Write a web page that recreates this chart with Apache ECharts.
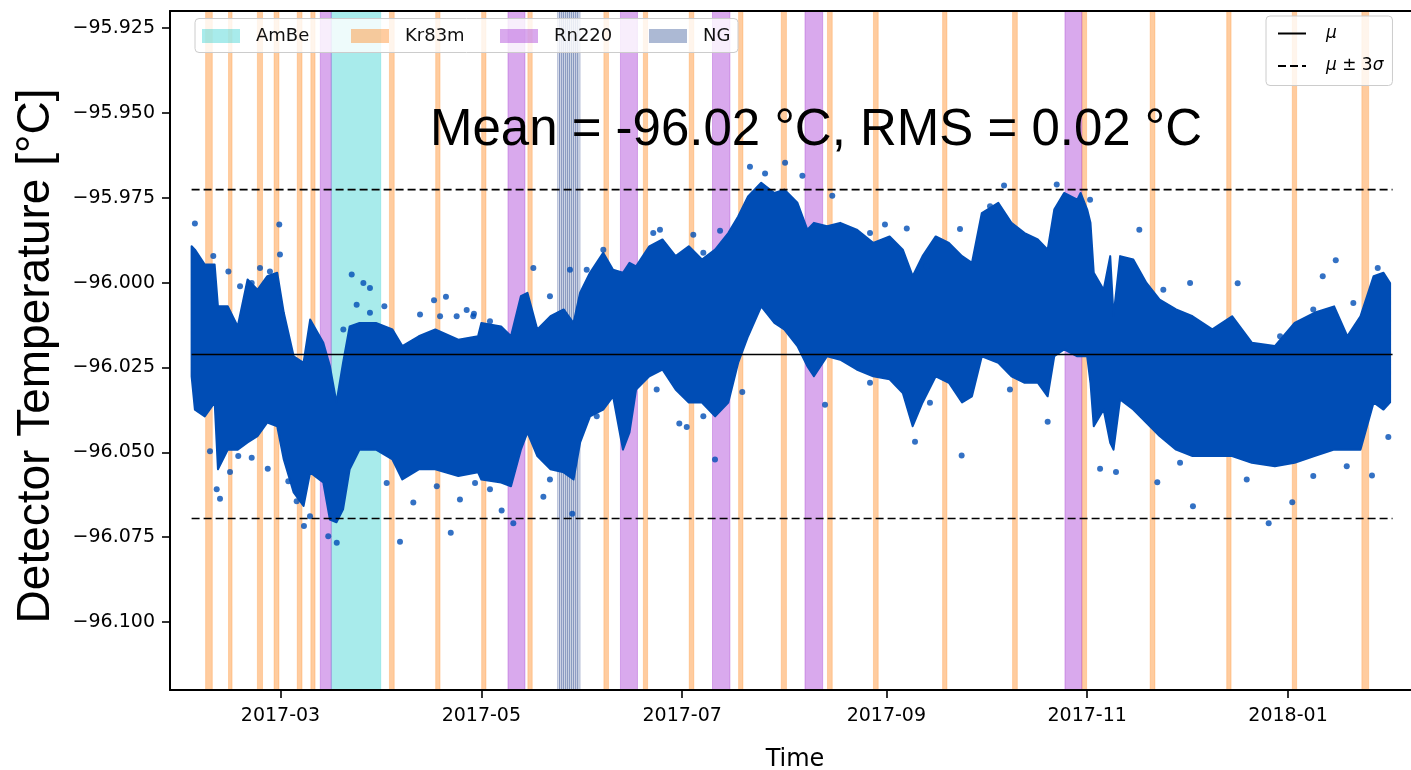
<!DOCTYPE html>
<html><head><meta charset="utf-8">
<script src="https://cdn.jsdelivr.net/npm/echarts@6/dist/echarts.min.js"></script>
<style>html,body{margin:0;padding:0;background:#fff}#c{width:1411px;height:770px}</style>
</head><body><div id="c"></div>
<script>
// ---------------- data ----------------
const X_TICKS = ['2017-03-01','2017-05-01','2017-07-01','2017-09-01','2017-11-01','2018-01-01'];
const Y_TICKS = [-96.100,-96.075,-96.050,-96.025,-96.000,-95.975,-95.950,-95.925];
const X_RANGE = ['2017-01-26 10:30','2018-02-10 02:00'];
const Y_RANGE = [-96.12, -95.92];

const MEAN = -96.0212;
const PLUS_3SIGMA = -95.9726;
const MINUS_3SIGMA = -96.0695;
const LINE_SPAN = ['2017-02-02 00:00','2018-02-01 18:00'];

const AMBE = [['2017-03-16 10:00','2017-03-31 11:00']];
const KR83M = [
  ['2017-02-06 06:00','2017-02-08 07:00'],['2017-02-13 05:00','2017-02-14 07:00'],
  ['2017-02-21 23:30','2017-02-23 13:00'],['2017-02-27 01:00','2017-02-28 13:00'],
  ['2017-03-06 02:00','2017-03-07 13:00'],['2017-03-10 05:00','2017-03-11 12:00'],
  ['2017-04-03 02:00','2017-04-04 13:00'],['2017-04-17 03:00','2017-04-18 11:00'],
  ['2017-05-01 02:00','2017-05-02 10:00'],['2017-05-15 03:00','2017-05-16 11:00'],
  ['2017-06-07 05:00','2017-06-08 15:00'],['2017-06-19 05:00','2017-06-20 12:00'],
  ['2017-07-03 03:00','2017-07-04 13:00'],['2017-07-18 03:00','2017-07-19 11:00'],
  ['2017-07-31 02:00','2017-08-01 16:00'],['2017-08-14 03:00','2017-08-15 14:00'],
  ['2017-08-28 02:00','2017-08-29 13:00'],['2017-09-18 02:00','2017-09-19 10:00'],
  ['2017-10-09 08:00','2017-10-10 19:00'],['2017-10-30 09:00','2017-10-31 20:00'],
  ['2017-11-20 03:00','2017-11-21 14:00'],['2017-12-13 09:00','2017-12-14 17:00'],
  ['2018-01-02 07:00','2018-01-03 15:00'],['2018-01-23 10:00','2018-01-25 12:00']
];
const RN220 = [
  ['2017-03-13 02:00','2017-03-16 10:00'],['2017-05-09 02:00','2017-05-14 06:00'],
  ['2017-06-12 06:00','2017-06-17 10:00'],['2017-07-10 05:00','2017-07-15 12:00'],
  ['2017-08-07 07:00','2017-08-12 16:00'],['2017-10-25 06:00','2017-10-30 09:00']
];
const NG = [
  ['2017-05-24 04:30','2017-05-24 19:00'],['2017-05-24 19:00','2017-05-25 10:00'],
  ['2017-05-25 10:00','2017-05-26 00:00'],['2017-05-26 00:00','2017-05-26 15:00'],
  ['2017-05-26 15:00','2017-05-27 05:30'],['2017-05-27 05:30','2017-05-27 20:00'],
  ['2017-05-27 20:00','2017-05-28 10:30'],['2017-05-28 10:30','2017-05-29 01:00'],
  ['2017-05-29 01:00','2017-05-29 16:00'],['2017-05-29 16:00','2017-05-30 06:30'],
  ['2017-05-30 06:30','2017-05-30 23:00']
];

// dense cloud of temperature readings: upper / lower edge of the point cloud
const BAND_DATES = [
  '2017-02-02','2017-02-03','2017-02-06','2017-02-09','2017-02-10','2017-02-13','2017-02-16','2017-02-19','2017-02-22','2017-02-25','2017-02-28',
  '2017-03-02','2017-03-05','2017-03-08','2017-03-10','2017-03-14','2017-03-16','2017-03-18','2017-03-20','2017-03-22','2017-03-25','2017-03-30',
  '2017-04-04','2017-04-07','2017-04-12','2017-04-17','2017-04-24','2017-04-30',
  '2017-05-01','2017-05-07','2017-05-10','2017-05-13','2017-05-15','2017-05-18','2017-05-22','2017-05-26','2017-05-29','2017-05-31',
  '2017-06-03','2017-06-07','2017-06-10','2017-06-13','2017-06-15','2017-06-17','2017-06-21','2017-06-25','2017-06-29',
  '2017-07-03','2017-07-07','2017-07-11','2017-07-15','2017-07-18','2017-07-21','2017-07-25','2017-07-29',
  '2017-08-01','2017-08-05','2017-08-08','2017-08-10','2017-08-14','2017-08-18','2017-08-23','2017-08-28',
  '2017-09-02','2017-09-06','2017-09-09','2017-09-12','2017-09-16','2017-09-20','2017-09-24','2017-09-27','2017-09-30',
  '2017-10-05','2017-10-09','2017-10-13','2017-10-17','2017-10-20','2017-10-22','2017-10-25','2017-10-29','2017-10-30',
  '2017-11-01','2017-11-02','2017-11-03','2017-11-06','2017-11-08','2017-11-09','2017-11-11','2017-11-15','2017-11-19','2017-11-23','2017-11-28',
  '2017-12-03','2017-12-09','2017-12-15','2017-12-21','2017-12-28',
  '2018-01-03','2018-01-09','2018-01-15','2018-01-19','2018-01-23','2018-01-27','2018-01-30',
  '2018-02-01'
];
const BAND_UPPER = [
  -95.9893,-95.9903,-95.9947,-95.9947,-96.0070,-96.0070,-96.0129,-95.9991,-96.0021,-95.9981,-95.9971,
  -96.0089,-96.0217,-96.0236,-96.0109,-96.0177,-96.0246,-96.0353,-96.0236,-96.0129,-96.0119,-96.0119,
  -96.0138,-96.0187,-96.0158,-96.0138,-96.0168,-96.0158,
  -96.0119,-96.0129,-96.0158,-96.0040,-96.0030,-96.0138,-96.0099,-96.0079,-96.0119,-96.0030,
  -95.9971,-95.9912,-95.9962,-95.9971,-95.9942,-95.9952,-95.9893,-95.9873,-95.9922,
  -95.9893,-95.9932,-95.9903,-95.9854,-95.9805,-95.9746,-95.9706,-95.9736,
  -95.9726,-95.9765,-95.9844,-95.9824,-95.9834,-95.9824,-95.9844,-95.9883,
  -95.9864,-95.9903,-95.9981,-95.9922,-95.9864,-95.9883,-95.9922,-95.9942,-95.9795,
  -95.9765,-95.9824,-95.9854,-95.9873,-95.9903,-95.9785,-95.9736,-95.9756,-95.9736,
  -95.9785,-95.9824,-95.9971,-96.0021,-95.9922,-96.0099,-95.9922,-95.9932,-96.0001,-96.0050,-96.0079,
  -96.0099,-96.0138,-96.0099,-96.0177,-96.0187,
  -96.0119,-96.0089,-96.0070,-96.0158,-96.0099,-95.9981,-95.9971,
  -96.0001
];
const BAND_LOWER = [
  -96.0276,-96.0374,-96.0394,-96.0353,-96.0550,-96.0492,-96.0492,-96.0471,-96.0452,-96.0412,-96.0423,
  -96.0521,-96.0618,-96.0658,-96.0559,-96.0589,-96.0698,-96.0706,-96.0668,-96.0550,-96.0492,-96.0492,
  -96.0521,-96.0580,-96.0550,-96.0550,-96.0570,-96.0559,
  -96.0580,-96.0589,-96.0600,-96.0492,-96.0441,-96.0511,-96.0550,-96.0559,-96.0580,-96.0471,
  -96.0394,-96.0374,-96.0335,-96.0492,-96.0441,-96.0315,-96.0276,-96.0256,-96.0315,
  -96.0353,-96.0353,-96.0394,-96.0353,-96.0236,-96.0158,-96.0070,-96.0119,
  -96.0138,-96.0187,-96.0246,-96.0276,-96.0217,-96.0227,-96.0256,-96.0276,
  -96.0285,-96.0325,-96.0423,-96.0353,-96.0276,-96.0295,-96.0353,-96.0335,-96.0217,
  -96.0236,-96.0276,-96.0295,-96.0295,-96.0335,-96.0217,-96.0197,-96.0217,-96.0217,
  -96.0217,-96.0295,-96.0423,-96.0374,-96.0472,-96.0492,-96.0344,-96.0374,-96.0413,-96.0452,-96.0492,
  -96.0511,-96.0511,-96.0511,-96.0531,-96.0541,
  -96.0531,-96.0511,-96.0492,-96.0492,-96.0492,-96.0353,-96.0374,
  -96.0353
];
// individual readings at / outside the edge of the dense cloud
const OUT_DATES = [
  '2017-02-03 00:00','2017-02-28 15:00','2017-02-28 20:00','2017-03-22 15:00','2017-03-26 04:00','2017-03-28 04:00',
  '2017-04-01 13:00','2017-04-16 15:00','2017-04-20 06:00','2017-04-26 13:00','2017-02-10 15:00','2017-02-13 16:00',
  '2017-02-25 03:00','2017-03-08 03:00','2017-03-15 12:00','2017-03-18 02:00','2017-04-06 07:00','2017-04-21 17:00',
  '2017-02-20 06:00','2017-04-28 18:00','2017-06-24 06:00','2017-07-04 09:00','2017-07-12 12:00','2017-07-21 14:00',
  '2017-07-26 04:00','2017-05-16 19:00','2017-05-27 22:00','2017-05-19 20:00','2017-05-28 15:00','2017-05-10 17:00',
  '2017-05-07 04:00','2017-07-10 23:00','2017-07-19 06:00','2017-07-02 09:00','2017-06-30 03:00','2017-08-01 06:00',
  '2017-08-06 12:00','2017-08-15 14:00','2017-08-31 14:00','2017-09-07 05:00','2017-09-23 09:00','2017-10-06 18:00',
  '2017-10-22 18:00','2017-08-13 09:00','2017-09-09 17:00','2017-09-23 21:00','2017-10-20 00:00','2017-11-01 21:00',
  '2017-11-16 20:00','2017-12-16 17:00','2018-01-15 12:00','2018-01-11 13:00','2018-01-28 06:00','2017-11-04 22:00',
  '2017-11-09 18:00','2017-11-22 07:00','2017-12-03 03:00','2017-12-26 03:00','2018-01-02 07:00','2018-01-31 11:00',
  '2018-01-26 12:00',
  '2017-02-20 06:00','2017-02-22 18:30','2017-02-25 19:00','2017-02-16 17:00','2017-02-13 04:00','2017-02-08 14:00',
  '2017-02-07 14:00','2017-02-09 15:00','2017-02-16 04:00','2017-03-03 09:00','2017-03-05 22:00','2017-03-09 23:00',
  '2017-03-20 02:00','2017-03-24 03:00','2017-03-28 04:00','2017-04-12 09:00','2017-04-18 11:00','2017-04-23 12:00',
  '2017-04-28 13:00','2017-04-02 06:00','2017-04-10 08:00','2017-04-17 11:00','2017-04-24 12:00','2017-04-29 02:00',
  '2017-05-03 15:00','2017-05-21 20:00','2017-06-02 00:00','2017-06-07 01:00','2017-06-22 05:00','2017-07-07 10:00',
  '2017-05-03 15:00','2017-05-21 20:00','2017-06-05 01:00','2017-06-23 06:00','2017-07-07 10:00',
  '2017-08-27 01:00','2017-09-13 06:00','2017-10-02 12:00','2017-08-27 01:00','2017-09-14 06:00','2017-10-08 13:00',
  '2017-11-24 03:00','2017-12-02 06:00','2017-12-29 14:00','2018-01-08 16:00','2018-01-20 20:00',
  '2017-11-29 05:00','2017-12-19 11:00','2018-01-08 16:00','2018-01-18 20:00'
];
const OUT_VALUES = [
  -95.9826,-95.9829,-95.9917,-95.9976,-96.0001,-96.0016,
  -96.0070,-96.0052,-96.0042,-96.0081,-96.0637,-96.0558,
  -96.0548,-96.0717,-96.0747,-96.0766,-96.0763,-96.0737,
  -96.0516,-96.0092,-95.9844,-95.9859,-95.9847,-95.9659,
  -95.9679,-95.9957,-95.9962,-96.0631,-96.0681,-96.0709,
  -96.0671,-96.0521,-96.0322,-96.0425,-96.0415,-95.9647,
  -95.9685,-95.9744,-95.9829,-95.9841,-95.9842,-95.9714,
  -95.9711,-96.0360,-96.0469,-96.0509,-96.0410,-95.9756,
  -95.9844,-96.0002,-95.9934,-95.9981,-95.9957,-96.0548,
  -96.0558,-96.0588,-96.0659,-96.0709,-96.0647,-96.0455,
  -96.0568,
  -96.0001,-95.9957,-95.9967,-96.0011,-95.9967,-95.9922,
  -96.0497,-96.0609,-96.0511,-96.0585,-96.0644,-96.0688,
  -96.0138,-96.0065,-96.0089,-96.0094,-96.0099,-96.0099,
  -96.0099,-96.0590,-96.0648,-96.0600,-96.0639,-96.0590,
  -96.0114,-96.0040,-95.9962,-95.9903,-95.9854,-95.9912,
  -96.0609,-96.0580,-96.0394,-96.0315,-96.0394,
  -95.9854,-95.9952,-95.9775,-96.0295,-96.0354,-96.0315,
  -96.0021,-96.0001,-96.0158,-96.0079,-96.0060,
  -96.0531,-96.0580,-96.0570,-96.0541
];

// ---------------- styling ----------------
const BLUE = '#004db5';
const C_AMBE = 'rgba(0,196,196,0.34)';
const C_KR = 'rgba(255,127,14,0.4)';
const C_RN = 'rgba(160,40,210,0.4)';
const C_NG = 'rgba(70,100,160,0.45)';
const TICK_FONT = 'DejaVu Sans';

// dates -> timestamps (the x axis is numeric so that exact tick positions can be set)
const T = s => +echarts.time.parse(s);

function spans(list){ return list.map(p => [{xAxis: T(p[0])}, {xAxis: T(p[1])}]); }
function bandSeries(name, color, list, border, areaStyle){
  return {
    name: name, type: 'line', data: [], color: color, silent: true,
    itemStyle: {color: color},
    markArea: {
      silent: true, label: {show: false},
      itemStyle: areaStyle || {color: color, borderColor: border, borderWidth: 1},
      data: spans(list)
    }
  };
}

const chart = echarts.init(document.getElementById('c'), null, {renderer: 'canvas', width: 1411, height: 770});

const option = {
  animation: false,
  backgroundColor: '#ffffff',
  title: {
    text: 'Mean = -96.02 \u00b0C, RMS = 0.02 \u00b0C',
    left: 811, top: 100, textAlign: 'center',
    textStyle: {fontFamily: 'Liberation Sans', fontSize: 51, fontWeight: 'normal', color: '#000'}
  },
  grid: {left: 170, top: 11, width: 1250, height: 679, containLabel: false, outerBoundsMode: 'none'},
  legend: [
    {
      data: ['AmBe', 'Kr83m', 'Rn220', 'NG'],
      left: 202, top: 27, padding: 0,
      itemWidth: 38, itemHeight: 14, itemGap: 25, icon: 'rect',
      selectedMode: false, z: 6,
      textStyle: {fontFamily: TICK_FONT, fontSize: 18, color: '#111', width: 70, lineHeight: 14, padding: [0, 0, 0, 11]}
    },
    {
      data: ['\u03bc', '\u03bc \u00b1 3\u03c3'],
      orient: 'vertical', left: 1266, top: 16,
      padding: [9, 9, 11, 11],
      itemWidth: 28, itemHeight: 14, itemGap: 15.5,
      selectedMode: false, z: 6,
      itemStyle: {opacity: 0},
      backgroundColor: 'rgba(255,255,255,0.8)', borderColor: '#cccccc', borderWidth: 1, borderRadius: 4,
      formatter: function(n){ return n === '\u03bc' ? '{i|\u03bc}' : '{i|\u03bc} \u00b1 3{i|\u03c3}'; },
      textStyle: {fontFamily: TICK_FONT, fontSize: 17, color: '#000', lineHeight: 14, padding: [0, 0, 0, 15],
        rich: {i: {fontFamily: TICK_FONT, fontStyle: 'italic', fontSize: 17, color: '#000'}}}
    }
  ],
  graphic: [{
    type: 'rect', z: 3, silent: true,
    shape: {x: 195, y: 18.5, width: 543, height: 34, r: 4},
    style: {fill: 'rgba(255,255,255,0.8)', stroke: '#cccccc', lineWidth: 1}
  }],
  xAxis: [
    {
      type: 'value', min: T(X_RANGE[0]), max: T(X_RANGE[1]), z: 10,
      name: 'Time', nameLocation: 'middle', nameGap: 58,
      nameTextStyle: {fontFamily: TICK_FONT, fontSize: 24, color: '#000'},
      axisLine: {show: true, lineStyle: {color: '#000', width: 2}},
      axisTick: {show: true, length: 8, lineStyle: {color: '#000', width: 1.6}, customValues: X_TICKS.map(T)},
      axisLabel: {show: true, margin: 17, fontFamily: TICK_FONT, fontSize: 19, color: '#000',
        customValues: X_TICKS.map(T), formatter: v => echarts.time.format(v, '{yyyy}-{MM}', false)},
      splitLine: {show: false}
    },
    {
      type: 'value', position: 'top', min: T(X_RANGE[0]), max: T(X_RANGE[1]), z: 10,
      axisLine: {show: true, lineStyle: {color: '#000', width: 2}},
      axisTick: {show: false}, axisLabel: {show: false}, splitLine: {show: false}
    }
  ],
  yAxis: {
    type: 'value', min: Y_RANGE[0], max: Y_RANGE[1], z: 10,
    name: 'Detector Temperature [\u00b0C]', nameLocation: 'middle', nameGap: 111,
    nameTextStyle: {fontFamily: 'Liberation Sans', fontSize: 46, color: '#000', padding: [0, 11, 0, 0]},
    axisLine: {show: true, lineStyle: {color: '#000', width: 2}},
    axisTick: {show: true, length: 8, lineStyle: {color: '#000', width: 1.6}, customValues: Y_TICKS},
    axisLabel: {show: true, margin: 15, fontFamily: TICK_FONT, fontSize: 19, color: '#000',
      customValues: Y_TICKS, formatter: v => v.toFixed(3).replace('-', '\u2212')},
    splitLine: {show: false}
  },
  series: [
    bandSeries('AmBe', C_AMBE, AMBE, 'rgba(0,196,196,0.2)'),
    bandSeries('Kr83m', C_KR, KR83M, 'rgba(255,127,14,0.25)'),
    bandSeries('Rn220', C_RN, RN220, 'rgba(150,30,200,0.3)'),
    bandSeries('NG', C_NG, NG, null, {color: 'rgba(70,100,160,0.16)', borderColor: 'rgba(60,85,150,0.38)', borderWidth: 1}),
    {
      name: 'cloud', type: 'custom', z: 3, silent: true,
      dimensions: ['date', 'upper', 'lower'],
      encode: {x: 'date', y: ['upper', 'lower']},
      data: BAND_DATES.map((d, i) => [T(d), BAND_UPPER[i], BAND_LOWER[i]]),
      renderItem: function(params, api){
        if (params.dataIndex !== 0) return null;
        const n = params.dataInsideLength || BAND_DATES.length;
        const top = [], bot = [];
        for (let i = 0; i < n; i++){
          top.push(api.coord([api.value(0, i), api.value(1, i)]));
          bot.push(api.coord([api.value(0, i), api.value(2, i)]));
        }
        return {type: 'polygon', shape: {points: top.concat(bot.reverse())},
          style: {fill: BLUE, stroke: BLUE, lineWidth: 2, lineJoin: 'round'}};
      }
    },
    {
      name: 'readings', type: 'scatter', z: 4, silent: true,
      symbol: 'circle', symbolSize: 6,
      itemStyle: {color: BLUE},
      data: OUT_DATES.map((d, i) => [T(d), OUT_VALUES[i]])
    },
    {
      name: '\u03bc', type: 'line', z: 5, symbol: 'none', silent: true,
      color: '#000', itemStyle: {opacity: 0}, lineStyle: {color: '#000', width: 1.6},
      data: [[T(LINE_SPAN[0]), MEAN], [T(LINE_SPAN[1]), MEAN]]
    },
    {
      name: '\u03bc \u00b1 3\u03c3', type: 'line', z: 5, symbol: 'none', silent: true,
      color: '#000', itemStyle: {opacity: 0}, lineStyle: {color: '#000', width: 1.6, type: [8, 4]},
      data: [[T(LINE_SPAN[0]), PLUS_3SIGMA], [T(LINE_SPAN[1]), PLUS_3SIGMA]]
    },
    {
      name: '\u03bc \u00b1 3\u03c3', type: 'line', z: 5, symbol: 'none', silent: true,
      color: '#000', itemStyle: {opacity: 0}, lineStyle: {color: '#000', width: 1.6, type: [8, 4]},
      data: [[T(LINE_SPAN[0]), MINUS_3SIGMA], [T(LINE_SPAN[1]), MINUS_3SIGMA]]
    }
  ]
};
chart.setOption(option);
</script>
</body></html>
